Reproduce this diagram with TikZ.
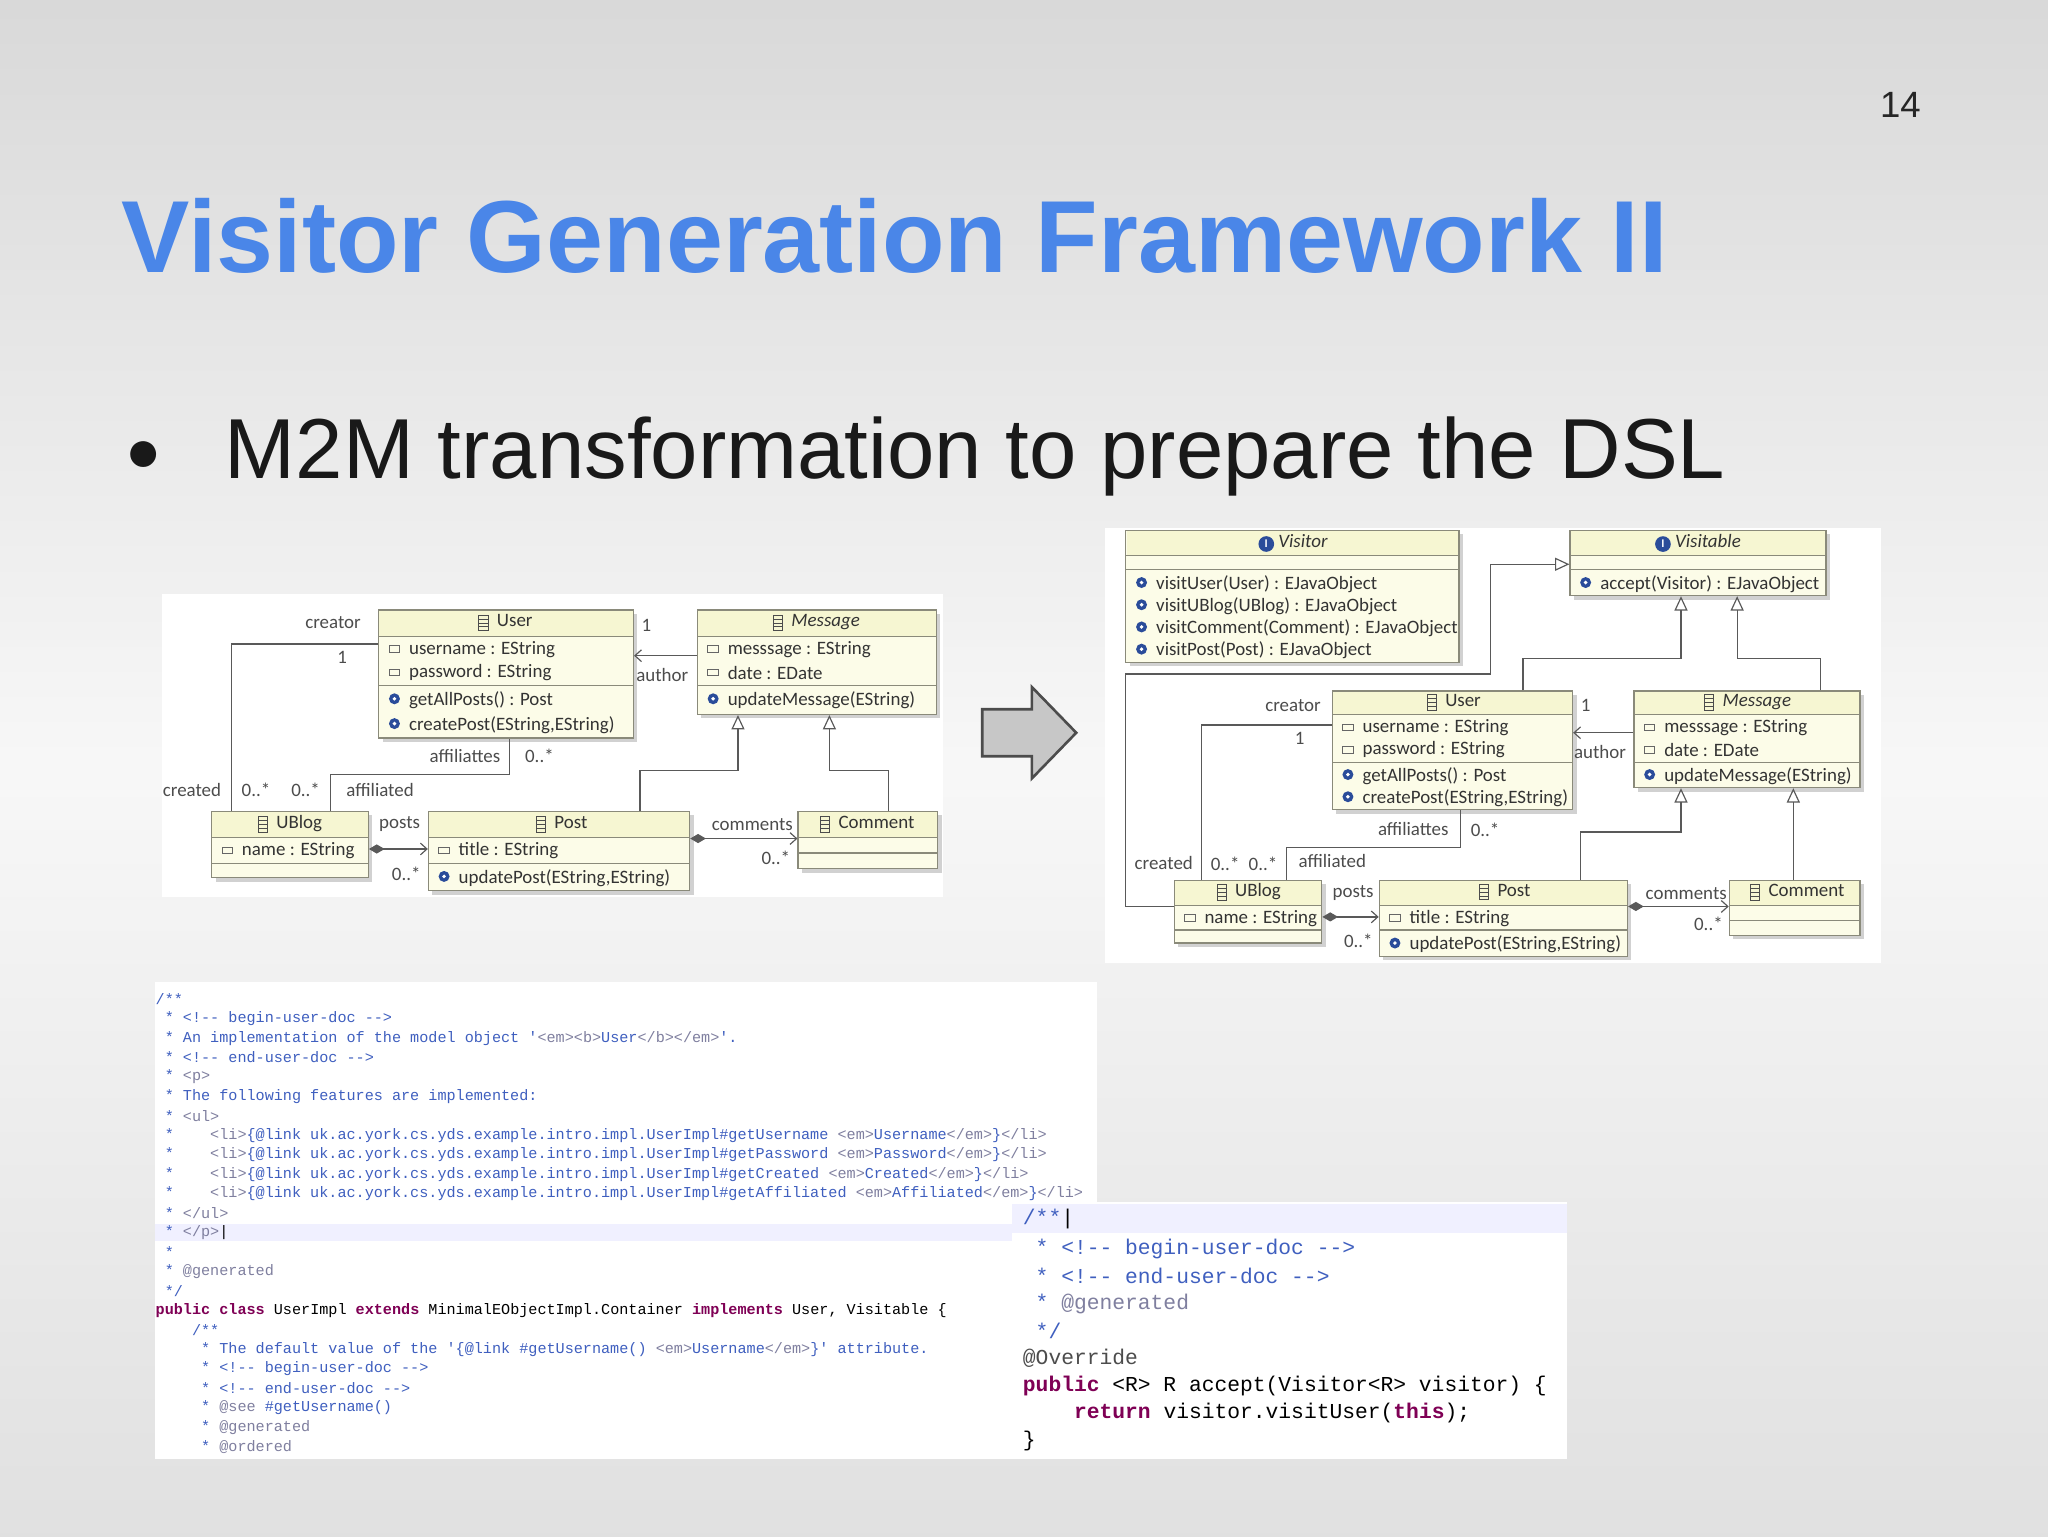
\documentclass[tikz,border=0pt]{standalone}
\usepackage{fontspec}
\setmainfont{Liberation Sans}
\newfontfamily\umlf{Carlito}
\newfontfamily\codef{Liberation Mono}
\usetikzlibrary{arrows.meta,fit}
\definecolor{ttl}{HTML}{4A86E8}
\definecolor{clsfill}{HTML}{FCFCE8}
\definecolor{hdrfill}{HTML}{F6F6D2}
\definecolor{clsline}{HTML}{8A8A7A}
\definecolor{cmt}{HTML}{3F5FBF}
\definecolor{tag}{HTML}{7F7F9F}
\definecolor{kw}{HTML}{7F0055}
\definecolor{gear}{HTML}{2A4C9A}
\tikzset{
 clsbox/.style={draw=clsline,fill=clsfill,inner sep=0pt,line width=0.9pt},
 ut/.style={font=\umlf\fontsize{14.5}{16}\selectfont,text=black!80,inner sep=0pt,anchor=west},
 lbl/.style={font=\umlf\fontsize{14.5}{16}\selectfont,text=black!70,inner sep=0pt},
 conn/.style={draw=black!65,line width=0.9pt},
 gen/.style={conn,-{Triangle[open,length=11pt,width=10pt]}},
 nav/.style={conn,-{Straight Barb[length=5pt,width=9pt]}},
 comp/.style={conn,{Diamond[length=12pt,width=7pt]}-{Straight Barb[length=5pt,width=9pt]}},
 cl/.style={font=\codef\fontsize{11.6}{12}\selectfont,inner sep=0pt,anchor=west},
 cr/.style={font=\codef\fontsize{16.3}{17}\selectfont,inner sep=0pt,anchor=west},
}
% name, x1,y1,x2,y2, sep1, sep2
\newcommand\umlbox[7]{%
 \fill[black!18] (#2+3,#3+3) rectangle (#4+3,#5+3);
 \node[clsbox,fit={(#2,#3)(#4,#5)}] (#1) {};
 \fill[hdrfill] (#2+0.5,#3+0.5) rectangle (#4-0.5,#6);
 \draw[clsline,line width=0.9pt] (#2,#6) -- (#4,#6) (#2,#7) -- (#4,#7);
}
\newcommand\chd[3]{\node[ut,anchor=center] at (#1,#2) {\tikz[baseline=-3pt,x=1pt,y=1pt]{\draw[black!70,line width=0.7pt] (0,-6) rectangle (7,6) (0,0)--(7,0) (0,-3)--(7,-3) (0,3)--(7,3);}\ \ #3};}
\newcommand\ihd[3]{\node[ut,anchor=center] at (#1,#2) {\tikz[baseline=-3pt,x=1pt,y=1pt]{\fill[gear] (0,0) circle (6); \node[text=white,font=\bfseries\fontsize{9}{9}\selectfont,inner sep=0] at (0,0) {I};}\ \textit{#3}};}
\newcommand\uatt[3]{\draw[black!60,line width=0.7pt] (#1+8,#2-2.5) rectangle (#1+16,#2+2.5); \node[ut] at (#1+23,#2) {#3};}
\newcommand\uop[3]{\fill[gear] (#1+12,#2-1) circle (4.2); \fill[white] (#1+12,#2-1) circle (1.5); \node[ut] at (#1+23,#2) {#3};}
\begin{document}
\begin{tikzpicture}[x=1pt,y=-1pt]
\useasboundingbox (0,0) rectangle (1568,1176);
\shade[top color=black!15,bottom color=black!12,middle color=black!3] (0,0) rectangle (1568,1176);
% headings
\node[font=\fontsize{28}{30}\selectfont,text=black!85] at (1455,80) {14};
\node[anchor=base west,inner sep=0,font=\bfseries\fontsize{78.4}{90}\selectfont,text=ttl] at (93,209) {Visitor Generation Framework II};
\node[anchor=base west,inner sep=0,font=\fontsize{66}{70}\selectfont,text=black!90] at (96,366) {\raisebox{5pt}{\fontsize{46}{46}\selectfont●}};
\node[anchor=base west,inner sep=0,font=\fontsize{65.2}{70}\selectfont,text=black!90] at (172,366) {M2M transformation to prepare the DSL};
% panels
\fill[white] (124,455) rectangle (722,687);
\fill[white] (846,404) rectangle (1440,737);
% big arrow
\draw[fill=black!22,draw=black!70,line width=2pt,line join=miter] (752,543) -- (790,543) -- (790,526) -- (824,561) -- (790,596) -- (790,579) -- (752,579) -- cycle;
% ---------- left diagram
\umlbox{lUser}{290}{467}{485}{565}{487}{525}
\umlbox{lMsg}{534}{467}{717}{547}{487}{525}
\umlbox{lUBlog}{162}{621}{282}{672}{641}{661}
\umlbox{lPost}{328}{621}{528}{682}{641}{661}
\umlbox{lCom}{611}{621}{718}{665}{641}{653}
\chd{387}{477}{User}
\uatt{290}{497}{username : EString}
\uatt{290}{515}{password : EString}
\uop{290}{536}{getAllPosts() : Post}
\uop{290}{555}{createPost(EString,EString)}
\chd{625}{477}{\textit{Message}}
\uatt{534}{497}{messsage : EString}
\uatt{534}{515}{date : EDate}
\uop{534}{536}{updateMessage(EString)}
\chd{222}{631}{UBlog}
\uatt{162}{651}{name : EString}
\chd{430}{631}{Post}
\uatt{328}{651}{title : EString}
\uop{328}{672}{updatePost(EString,EString)}
\chd{664}{631}{Comment}
\draw[conn] (lUser.west |- 0,493) -- (177,493) -- (lUBlog.north -| 177,0);
\draw[conn] (lUser.south -| 390,0) -- (390,593) -- (253,593) -- (lUBlog.north -| 253,0);
\draw[nav] (lMsg.west |- 0,502) -- (lUser.east |- 0,502);
\draw[gen] (lPost.north -| 490,0) -- (490,590) -- (565,590) -- (lMsg.south -| 565,0);
\draw[gen] (lCom.north -| 680,0) -- (680,590) -- (635,590) -- (lMsg.south -| 635,0);
\draw[comp] (lUBlog.east |- 0,650) -- (lPost.west |- 0,650);
\draw[comp] (lPost.east |- 0,642) -- (lCom.west |- 0,642);
\node[lbl] at (255,477) {creator};
\node[lbl] at (262,503) {1};
\node[lbl] at (147,605) {created};
\node[lbl] at (196,605) {0..*};
\node[lbl] at (234,605) {0..*};
\node[lbl] at (291,605) {affiliated};
\node[lbl] at (356,579) {affiliattes};
\node[lbl] at (413,579) {0..*};
\node[lbl] at (495,479) {1};
\node[lbl] at (507,517) {author};
\node[lbl] at (306,631) {posts};
\node[lbl] at (311,669) {0..*};
\node[lbl] at (576,631) {comments};
\node[lbl] at (594,657) {0..*};
% ---------- right diagram
\umlbox{rVis}{862}{406}{1117}{507}{425}{436}
\umlbox{rVbl}{1202}{406}{1398}{456}{425}{436}
\umlbox{rUser}{1020}{529}{1204}{620}{547}{584}
\umlbox{rMsg}{1251}{529}{1424}{603}{547}{584}
\umlbox{rUBlog}{899}{674}{1012}{722}{693}{712}
\umlbox{rPost}{1056}{674}{1246}{732}{693}{712}
\umlbox{rCom}{1324}{674}{1424}{716}{693}{705}
\ihd{990}{416}{Visitor}
\uop{862}{447}{visitUser(User) : EJavaObject}
\uop{862}{464}{visitUBlog(UBlog) : EJavaObject}
\uop{862}{481}{visitComment(Comment) : EJavaObject}
\uop{862}{498}{visitPost(Post) : EJavaObject}
\ihd{1300}{416}{Visitable}
\uop{1202}{447}{accept(Visitor) : EJavaObject}
\chd{1113}{538}{User}
\uatt{1020}{557}{username : EString}
\uatt{1020}{574}{password : EString}
\uop{1020}{594}{getAllPosts() : Post}
\uop{1020}{611}{createPost(EString,EString)}
\chd{1338}{538}{\textit{Message}}
\uatt{1251}{557}{messsage : EString}
\uatt{1251}{574}{date : EDate}
\uop{1251}{594}{updateMessage(EString)}
\chd{956}{683}{UBlog}
\uatt{899}{703}{name : EString}
\chd{1152}{683}{Post}
\uatt{1056}{703}{title : EString}
\uop{1056}{723}{updatePost(EString,EString)}
\chd{1376}{683}{Comment}
\draw[gen] (rUBlog.west |- 0,694) -- (862,694) -- (862,516) -- (1141,516) -- (1141,432) -- (rVbl.west |- 0,432);
\draw[gen] (rUser.north -| 1166,0) -- (1166,504) -- (1287,504) -- (rVbl.south -| 1287,0);
\draw[gen] (rMsg.north -| 1394,0) -- (1394,504) -- (1330,504) -- (rVbl.south -| 1330,0);
\draw[conn] (rUser.west |- 0,555) -- (920,555) -- (rUBlog.north -| 920,0);
\draw[conn] (rUser.south -| 1118,0) -- (1118,649) -- (985,649) -- (rUBlog.north -| 985,0);
\draw[nav] (rMsg.west |- 0,561) -- (rUser.east |- 0,561);
\draw[gen] (rPost.north -| 1210,0) -- (1210,637) -- (1287,637) -- (rMsg.south -| 1287,0);
\draw[gen] (rCom.north -| 1373,0) -- (rMsg.south -| 1373,0);
\draw[comp] (rUBlog.east |- 0,702) -- (rPost.west |- 0,702);
\draw[comp] (rPost.east |- 0,694) -- (rCom.west |- 0,694);
\node[lbl] at (990,540) {creator};
\node[lbl] at (995,565) {1};
\node[lbl] at (891,661) {created};
\node[lbl] at (938,661) {0..*};
\node[lbl] at (967,661) {0..*};
\node[lbl] at (1020,659) {affiliated};
\node[lbl] at (1082,635) {affiliattes};
\node[lbl] at (1137,635) {0..*};
\node[lbl] at (1214,540) {1};
\node[lbl] at (1225,576) {author};
\node[lbl] at (1036,684) {posts};
\node[lbl] at (1040,720) {0..*};
\node[lbl] at (1291,684) {comments};
\node[lbl] at (1308,707) {0..*};
% ---------- code panels
\fill[white] (119,752) rectangle (840,920);
\fill[white] (119,920) rectangle (775,1117);
\fill[white] (775,920) rectangle (1200,1117);
\fill[blue!6] (119,937) rectangle (775,950);
\fill[blue!6] (775,922) rectangle (1200,944);
\def\cy#1{765+14.9*#1}
\begin{scope}[text=cmt]
\node[cl] at (119,{\cy{0}}) {/**};
\node[cl] at (119,{\cy{1}}) {\ * <!-{}- begin-user-doc -{}->};
\node[cl] at (119,{\cy{2}}) {\ * An implementation of the model object '\textcolor{tag}{<em><b>}User\textcolor{tag}{</b></em>}'.};
\node[cl] at (119,{\cy{3}}) {\ * <!-{}- end-user-doc -{}->};
\node[cl] at (119,{\cy{4}}) {\ * \textcolor{tag}{<p>}};
\node[cl] at (119,{\cy{5}}) {\ * The following features are implemented:};
\node[cl] at (119,{\cy{6}}) {\ * \textcolor{tag}{<ul>}};
\node[cl] at (119,{\cy{7}}) {\ *\ \ \ \ \textcolor{tag}{<li>}\{@link uk.ac.york.cs.yds.example.intro.impl.UserImpl\#getUsername \textcolor{tag}{<em>}Username\textcolor{tag}{</em>}\}\textcolor{tag}{</li>}};
\node[cl] at (119,{\cy{8}}) {\ *\ \ \ \ \textcolor{tag}{<li>}\{@link uk.ac.york.cs.yds.example.intro.impl.UserImpl\#getPassword \textcolor{tag}{<em>}Password\textcolor{tag}{</em>}\}\textcolor{tag}{</li>}};
\node[cl] at (119,{\cy{9}}) {\ *\ \ \ \ \textcolor{tag}{<li>}\{@link uk.ac.york.cs.yds.example.intro.impl.UserImpl\#getCreated \textcolor{tag}{<em>}Created\textcolor{tag}{</em>}\}\textcolor{tag}{</li>}};
\node[cl] at (119,{\cy{10}}) {\ *\ \ \ \ \textcolor{tag}{<li>}\{@link uk.ac.york.cs.yds.example.intro.impl.UserImpl\#getAffiliated \textcolor{tag}{<em>}Affiliated\textcolor{tag}{</em>}\}\textcolor{tag}{</li>}};
\node[cl] at (119,{\cy{11}}) {\ * \textcolor{tag}{</ul>}};
\node[cl] at (119,{\cy{12}}) {\ * \textcolor{tag}{</p>}\textcolor{black}{|}};
\node[cl] at (119,{\cy{13}}) {\ *};
\node[cl] at (119,{\cy{14}}) {\ * \textcolor{tag}{@generated}};
\node[cl] at (119,{\cy{15}}) {\ */};
\node[cl,text=black] at (119,{\cy{16}}) {\textcolor{kw}{\bfseries public class} UserImpl \textcolor{kw}{\bfseries extends} MinimalEObjectImpl.Container \textcolor{kw}{\bfseries implements} User, Visitable \{};
\node[cl] at (119,{\cy{17}}) {\ \ \ \ /**};
\node[cl] at (119,{\cy{18}}) {\ \ \ \ \ * The default value of the '\{@link \#getUsername() \textcolor{tag}{<em>}Username\textcolor{tag}{</em>}\}' attribute.};
\node[cl] at (119,{\cy{19}}) {\ \ \ \ \ * <!-{}- begin-user-doc -{}->};
\node[cl] at (119,{\cy{20}}) {\ \ \ \ \ * <!-{}- end-user-doc -{}->};
\node[cl] at (119,{\cy{21}}) {\ \ \ \ \ * \textcolor{tag}{@see} \#getUsername()};
\node[cl] at (119,{\cy{22}}) {\ \ \ \ \ * \textcolor{tag}{@generated}};
\node[cl] at (119,{\cy{23}}) {\ \ \ \ \ * \textcolor{tag}{@ordered}};
\end{scope}
\begin{scope}[text=cmt]
\node[cr] at (783,933) {/**\textcolor{black}{|}};
\node[cr] at (783,956) {\ * <!-{}- begin-user-doc -{}->};
\node[cr] at (783,977) {\ * <!-{}- end-user-doc -{}->};
\node[cr] at (783,998) {\ * \textcolor{tag}{@generated}};
\node[cr] at (783,1019) {\ */};
\node[cr,text=black!70] at (783,1040) {@Override};
\node[cr,text=black] at (783,1061) {\textcolor{kw}{\bfseries public} <R> R accept(Visitor<R> visitor) \{};
\node[cr,text=black] at (783,1082) {\ \ \ \ \textcolor{kw}{\bfseries return} visitor.visitUser(\textcolor{kw}{\bfseries this});};
\node[cr,text=black] at (783,1103) {\}};
\end{scope}
\end{tikzpicture}
\end{document}
